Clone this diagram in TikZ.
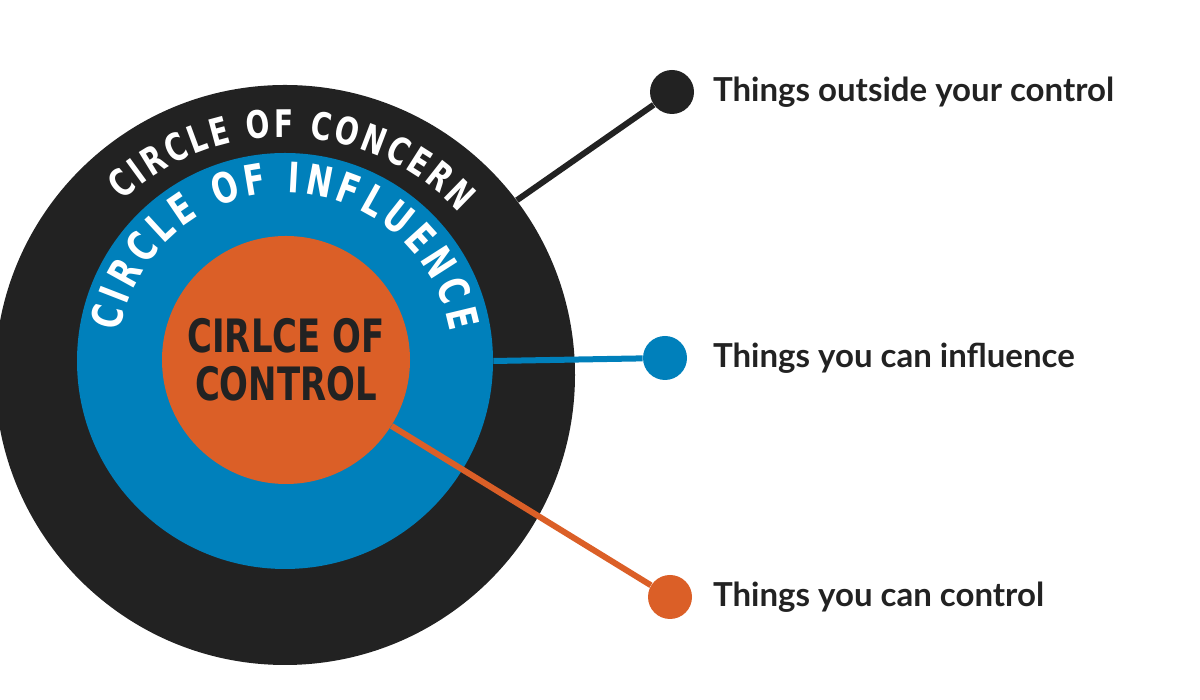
\documentclass[tikz,border=0pt]{standalone}
\usepackage{fontspec}
\newfontfamily\cond{DejaVu Sans Condensed}[FakeStretch=0.82]
\newfontfamily\lato{Lato}
\usetikzlibrary{decorations.text}
\definecolor{ink}{HTML}{222222}
\definecolor{inflblue}{HTML}{0080BB}
\definecolor{ctlorange}{HTML}{DB5F27}
\tikzstyle{ring}=[circle,inner sep=0pt]
\tikzstyle{dot}=[circle,minimum size=22pt,inner sep=0pt]
\tikzstyle{link}=[draw,line width=3pt,-]
\tikzstyle{thing}=[anchor=west,font=\lato\bfseries\fontsize{16.5}{18}\selectfont,text=ink]
\begin{document}
\begin{tikzpicture}[x=0.5pt,y=0.5pt]
      \useasboundingbox (0,0) rectangle (1200,700);
      \node[ring,fill=ink,minimum size=290pt] (concern) at (285,325) {};
      \node[ring,fill=inflblue,minimum size=208pt] (influence) at (285,339) {};
      \node[ring,fill=ctlorange,minimum size=124pt,text=ink,align=center,
        font=\cond\bfseries\fontsize{23}{24}\selectfont] (control) at (286,340) {CIRLCE OF\\CONTROL};
      % curved titles
      \path[decorate,decoration={text along path,text align=fit to path,
        text={|\cond\bfseries\fontsize{19}{19}\selectfont\color{white}|CIRCLE OF CONCERN}}]
        (285,325) ++(133:238) arc[start angle=133,end angle=43,radius=238];
      \path[decorate,decoration={text along path,text align=fit to path,
        text={|\cond\bfseries\fontsize{21}{21}\selectfont\color{white}|CIRCLE OF INFLUENCE}}]
        (285,339) ++(170:168) arc[start angle=170,end angle=10,radius=168];
      % dots and connectors
      \node[dot,fill=ink] (dout) at (672,608) {};
      \node[dot,fill=inflblue] (din) at (665,342) {};
      \node[dot,fill=ctlorange] (dctl) at (670,103) {};
      \draw[link,ink] (concern.37) -- (dout);
      \draw[link,inflblue] (influence.east) -- (din);
      \draw[link,ctlorange] (control.-32) -- (dctl);
      \node[thing] (lout) at (706,608) {Things outside your control};
      \node[thing] (lin) at (706,342) {Things you can influence};
      \node[thing] (lctl) at (706,103) {Things you can control};
    \end{tikzpicture}
\end{document}
